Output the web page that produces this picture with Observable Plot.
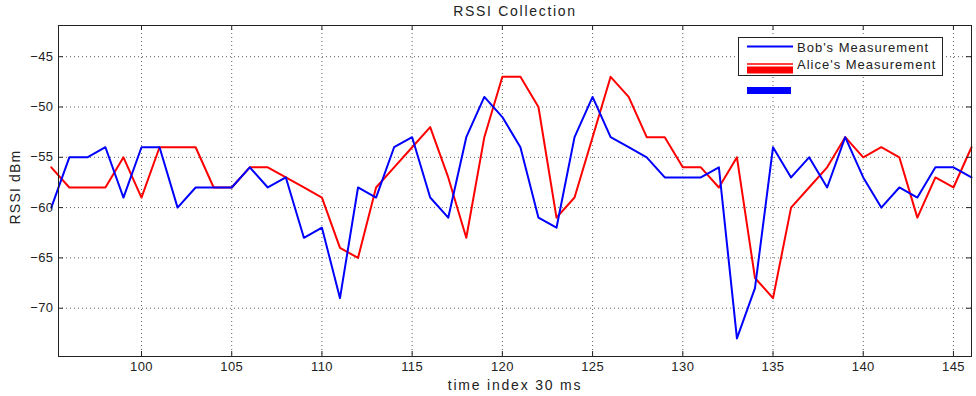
<!DOCTYPE html>
<html><head><meta charset="utf-8">
<script src="https://cdn.jsdelivr.net/npm/d3@7"></script>
<script src="https://cdn.jsdelivr.net/npm/@observablehq/plot@0.6"></script>
<style>
body{margin:0;background:#fff;}
#wrap{position:relative;width:976px;height:396px;font-family:"Liberation Sans",Arial,sans-serif;}
#legend{position:absolute;left:0;top:0;pointer-events:none;}
</style>
</head><body><div id="wrap"></div>
<script>
// ---- data ----
const timeIndex = [95,96,97,98,99,100,101,102,103,104,105,106,107,108,109,110,111,112,113,114,115,116,117,118,119,120,121,122,123,124,125,126,127,128,129,130,131,132,133,134,135,136,137,138,139,140,141,142,143,144,145,146];
const bobRssi = [-60,-55,-55,-54,-59,-54,-54,-60,-58,-58,
                 -58,-56,-58,-57,-63,-62,-69,-58,-59,-54,
                 -53,-59,-61,-53,-49,-51,-54,-61,-62,-53,
                 -49,-53,-54,-55,-57,-57,-57,-56,-73,-68,
                 -54,-57,-55,-58,-53,-57,-60,-58,-59,-56,
                 -56,-57];
const aliceRssi = [-56,-58,-58,-58,-55,-59,-54,-54,-54,-58,
                   -58,-56,-56,-57,-58,-59,-64,-65,-58,-56,
                   -54,-52,-57,-63,-53,-47,-47,-50,-61,-59,
                   -53,-47,-49,-53,-53,-56,-56,-58,-55,-67,
                   -69,-60,-58,-56,-53,-55,-54,-55,-61,-57,
                   -58,-54];
const seriesNames = ["Bob's Measurement", "Alice's Measurement"];
const seriesColors = ["#0000ff", "#ff0000"];
const xTicks = [100,105,110,115,120,125,130,135,140,145];
const yTicks = [-70,-65,-60,-55,-50,-45];
const xDomain = [95.4, 146];
const yDomain = [-74.8, -41.9];
const titleText = "RSSI Collection";
const xLabelText = "time index 30 ms";
const yLabelText = "RSSI dBm";

// ---- layout ----
const W = 976, H = 396, mt = 25, mb = 40, ml = 58, mr = 5;
const innerW = W - ml - mr, innerH = H - mt - mb;
const font = '"Liberation Sans", Arial, sans-serif';

const bobData = timeIndex.map((t, i) => ({t, v: bobRssi[i], s: seriesNames[0]}));
const aliceData = timeIndex.map((t, i) => ({t, v: aliceRssi[i], s: seriesNames[1]}));

const grid = {stroke: "#444", strokeOpacity: 0.85, strokeDasharray: "1,3", strokeWidth: 1};
const tickStyle = {stroke: "#222", strokeWidth: 1};

const chart = Plot.plot({
  width: W, height: H,
  marginTop: mt, marginBottom: mb, marginLeft: ml, marginRight: mr,
  style: {fontFamily: font, fontSize: "13px", color: "#222", background: "#fff"},
  x: {domain: xDomain, ticks: xTicks, label: null},
  y: {domain: yDomain, ticks: yTicks, label: null},
  color: {domain: seriesNames, range: seriesColors},
  marks: [
    Plot.gridX(xTicks, grid),
    Plot.gridY(yTicks, grid),
    Plot.line(aliceData, {x: "t", y: "v", stroke: "s", strokeWidth: 2, curve: "linear"}),
    Plot.line(bobData, {x: "t", y: "v", stroke: "s", strokeWidth: 2, curve: "linear"}),
    Plot.tickX(xTicks, {x: d => d, insetTop: innerH - 5, ...tickStyle}),
    Plot.tickX(xTicks, {x: d => d, insetBottom: innerH - 5, ...tickStyle}),
    Plot.tickY(yTicks, {y: d => d, insetRight: innerW - 5, ...tickStyle}),
    Plot.tickY(yTicks, {y: d => d, insetLeft: innerW - 5, ...tickStyle}),
    Plot.axisX(xTicks, {tickSize: 0, tickPadding: 5, fontSize: 13, fill: "#222"}),
    Plot.axisY(yTicks, {tickSize: 0, tickPadding: 5, fontSize: 13, fill: "#222"}),
    Plot.frame({stroke: "#222", strokeWidth: 1}),
    Plot.text([titleText], {frameAnchor: "top", lineAnchor: "middle", dy: -14, fontSize: 14, fill: "#222"}),
    Plot.text([xLabelText], {frameAnchor: "bottom", lineAnchor: "middle", dy: 29, fontSize: 14, fill: "#222"}),
    Plot.text([yLabelText], {frameAnchor: "left", textAnchor: "middle", lineAnchor: "middle", dx: -43, dy: -4, rotate: -90, fontSize: 14, fill: "#222"})
  ]
});
document.getElementById("wrap").appendChild(chart);

const svgSel = d3.select(chart);
const spacing = new Map([[titleText, "1.7px"], [xLabelText, "1.8px"], [yLabelText, "1.2px"]]);
svgSel.selectAll("text").each(function() {
  const s = spacing.get(this.textContent);
  if (s) d3.select(this).style("letter-spacing", s);
});
svgSel.selectAll('g[aria-label="x-axis tick label"] text, g[aria-label="y-axis tick label"] text').style("letter-spacing", "0.4px");

// ---- legend overlay ----
const lg = d3.select("#wrap").append("svg").attr("id", "legend").attr("width", W).attr("height", H);
lg.append("rect").attr("x", 738.5).attr("y", 37.5).attr("width", 204).attr("height", 38)
  .attr("fill", "#fff").attr("stroke", "#222");
lg.append("line").attr("x1", 747).attr("x2", 793).attr("y1", 46.5).attr("y2", 46.5)
  .attr("stroke", seriesColors[0]).attr("stroke-width", 2);
lg.append("line").attr("x1", 747).attr("x2", 793).attr("y1", 64).attr("y2", 64)
  .attr("stroke", seriesColors[1]).attr("stroke-width", 1.5);
lg.append("rect").attr("x", 747).attr("y", 66.5).attr("width", 46).attr("height", 7)
  .attr("fill", seriesColors[1]);
lg.append("rect").attr("x", 747).attr("y", 87).attr("width", 44).attr("height", 7)
  .attr("fill", seriesColors[0]);
lg.selectAll("text.lab").data(seriesNames).join("text")
  .attr("x", 797).attr("y", (d, i) => 52 + i * 17)
  .attr("font-family", font).attr("font-size", 13).attr("fill", "#222")
  .style("letter-spacing", "1px").text(d => d);
</script>
</body></html>
